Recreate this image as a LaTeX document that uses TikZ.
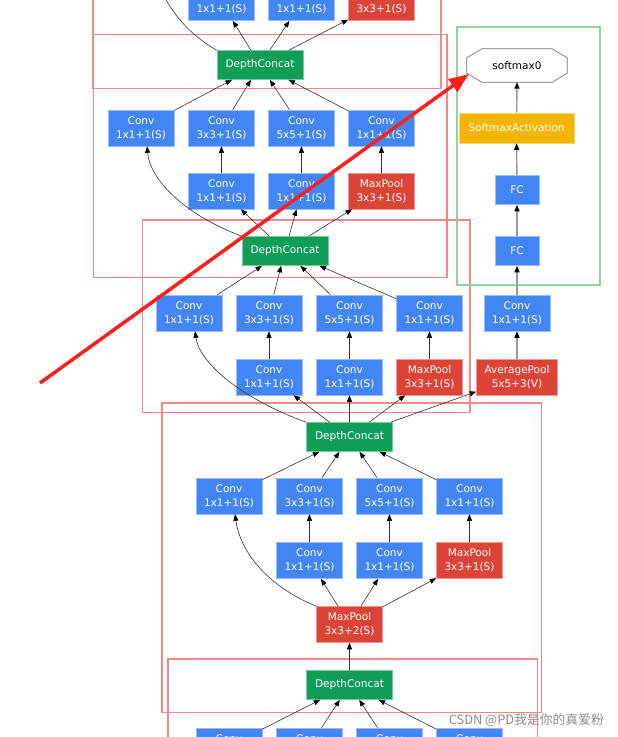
\documentclass[tikz,border=0pt]{standalone}
\usepackage{fontspec}
\newfontfamily\dejavu{DejaVu Sans}
\newfontfamily\cjk{Noto Sans CJK SC}
\usetikzlibrary{arrows.meta}
\definecolor{convblue}{RGB}{66,133,244}
\definecolor{poolred}{RGB}{219,68,55}
\definecolor{catgreen}{RGB}{15,157,88}
\definecolor{actyellow}{RGB}{244,180,0}
\definecolor{clusterred}{RGB}{245,135,135}
\definecolor{clustergreen}{RGB}{145,212,155}
\definecolor{markupred}{RGB}{255,30,30}
\tikzset{
  opbox/.style={text=white, font=\dejavu\fontsize{10.5}{14}\selectfont, align=center,
    inner sep=0pt, minimum width=66pt, minimum height=36pt, line width=0.6pt},
  conv/.style={opbox, fill=convblue, draw=convblue!55!white},
  pool/.style={opbox, fill=poolred, draw=poolred!55!white},
  concat/.style={opbox, fill=catgreen, draw=catgreen!55!white, minimum width=86pt, minimum height=29pt},
  fc/.style={opbox, fill=convblue, draw=convblue!55!white, minimum width=44pt, minimum height=29pt},
  act/.style={opbox, fill=actyellow, draw=actyellow!55!white, minimum width=115pt, minimum height=30pt},
  outnode/.style={font=\dejavu\fontsize{10.5}{14}\selectfont, inner sep=0pt, minimum width=100pt, minimum height=33pt},
  flow/.style={draw=black!80, line width=0.6pt, -{Triangle[length=6.5pt,width=5pt,color=black]}},
  branch/.style={flow, draw=black!40, line width=1.4pt},
  cluster/.style={draw=clusterred, line width=1.2pt},
  greencluster/.style={draw=clustergreen, line width=1.2pt},
  markup/.style={draw=markupred, line width=3.5pt, -{Triangle[length=20pt,width=15pt]}},
  watermark/.style={font=\cjk\fontsize{12.8}{15}\selectfont, text=black!45, inner sep=0pt}
}
\begin{document}
\begin{tikzpicture}[x=1pt, y=-1pt]
    \fill[white] (0,0) rectangle (618,737);
    \useasboundingbox (0,0) rectangle (618,737);
    % clusters
    \draw[cluster] (93,-20) rectangle (441,88.7);
    \draw[cluster] (93.7,34.7) rectangle (447,277.7);
    \draw[cluster] (142.7,220) rectangle (470,412.7);
    \draw[cluster] (162,403) rectangle (541.7,712.7);
    \draw[cluster] (168,659) rectangle (537.7,760);
    \draw[greencluster] (457,27) rectangle (600,285);
    % top module, cut off
    \node[conv] (t2) at (221.5,2.5) {Conv\\1x1+1(S)};
    \node[conv] (t3) at (301.5,2.5) {Conv\\1x1+1(S)};
    \node[pool] (t4) at (381.5,2.5) {MaxPool\\3x3+1(S)};
    \coordinate (up1) at (150,-40);
    \node[concat] (dc1) at (260,65) {DepthConcat};
    % module a
    \node[conv] (a1) at (141,128) {Conv\\1x1+1(S)};
    \node[conv] (a2) at (221.5,128) {Conv\\3x3+1(S)};
    \node[conv] (a3) at (301.5,128) {Conv\\5x5+1(S)};
    \node[conv] (a4) at (381.5,128) {Conv\\1x1+1(S)};
    \node[conv] (a2r) at (221.5,191) {Conv\\1x1+1(S)};
    \node[conv] (a3r) at (301.5,191) {Conv\\1x1+1(S)};
    \node[pool] (a4r) at (381.5,191) {MaxPool\\3x3+1(S)};
    \node[concat] (dc2) at (285,251) {DepthConcat};
    % module b
    \node[conv] (b1) at (189,313) {Conv\\1x1+1(S)};
    \node[conv] (b2) at (269,313) {Conv\\3x3+1(S)};
    \node[conv] (b3) at (349.5,313) {Conv\\5x5+1(S)};
    \node[conv] (b4) at (429.5,313) {Conv\\1x1+1(S)};
    \node[conv] (b2r) at (269,377) {Conv\\1x1+1(S)};
    \node[conv] (b3r) at (349.5,377) {Conv\\1x1+1(S)};
    \node[pool] (b4r) at (429.5,377) {MaxPool\\3x3+1(S)};
    \node[concat] (dc3) at (349.5,437) {DepthConcat};
    % softmax branch
    \node[pool, minimum width=81pt] (avg) at (517,377) {AveragePool\\5x5+3(V)};
    \node[conv] (bx) at (517,313) {Conv\\1x1+1(S)};
    \node[fc] (fc2) at (517,251) {FC};
    \node[fc] (fc1) at (517,190) {FC};
    \node[act] (act) at (516.5,128) {SoftmaxActivation};
    \node[outnode] (sm) at (517,65.5) {softmax0};
    \draw[black!55, fill=white, line width=0.7pt] ([xshift=15pt]sm.north west) -- ([xshift=-15pt]sm.north east)
        -- ([yshift=-9pt]sm.north east) -- ([yshift=9pt]sm.south east) -- ([xshift=-15pt]sm.south east)
        -- ([xshift=15pt]sm.south west) -- ([yshift=9pt]sm.south west) -- ([yshift=-9pt]sm.north west) -- cycle;
    \node[outnode] at (sm) {softmax0};
    % module c
    \node[conv] (c1) at (229,496) {Conv\\1x1+1(S)};
    \node[conv] (c2) at (309.5,496) {Conv\\3x3+1(S)};
    \node[conv] (c3) at (389.5,496) {Conv\\5x5+1(S)};
    \node[conv] (c4) at (469.5,496) {Conv\\1x1+1(S)};
    \node[conv] (c2r) at (309.5,560.5) {Conv\\1x1+1(S)};
    \node[conv] (c3r) at (389.5,560.5) {Conv\\1x1+1(S)};
    \node[pool] (c4r) at (469.5,560.5) {MaxPool\\3x3+1(S)};
    \node[pool] (mp) at (349.5,624.5) {MaxPool\\3x3+2(S)};
    \node[concat] (dc4) at (349.5,685) {DepthConcat};
    % bottom module, cut off
    \node[conv] (d1) at (229,746) {Conv\\1x1+1(S)};
    \node[conv] (d2) at (309.5,746) {Conv\\3x3+1(S)};
    \node[conv] (d3) at (389.5,746) {Conv\\5x5+1(S)};
    \node[conv] (d4) at (469.5,746) {Conv\\1x1+1(S)};
    % edges
    \foreach \t in {t2,t3,t4} \draw[flow] (dc1) -- (\t);
    \draw[flow] (dc1.north west) .. controls (190,35) and (165,10) .. (up1);
    \foreach \s in {a1,a2,a3,a4} \draw[flow] (\s) -- (dc1);
    \draw[flow] (a2r) -- (a2);
    \draw[flow] (a3r) -- (a3);
    \draw[flow] (a4r) -- (a4);
    \foreach \t in {a2r,a3r,a4r} \draw[flow] (dc2) -- (\t);
    \draw[flow] (dc2.north west) .. controls (185,215) and (150,180) .. ([xshift=6pt]a1.south);
    \foreach \s in {b1,b2,b3,b4} \draw[flow] (\s) -- (dc2);
    \draw[flow] (b2r) -- (b2);
    \draw[flow] (b3r) -- (b3);
    \draw[flow] (b4r) -- (b4);
    \foreach \t in {b2r,b3r,b4r,avg} \draw[flow] (dc3) -- (\t);
    \draw[flow] (dc3.north west) .. controls (245,400) and (200,365) .. ([xshift=6pt]b1.south);
    \draw[branch] (avg) -- (bx);
    \draw[branch] (bx) -- (fc2);
    \draw[branch] (fc2) -- (fc1);
    \draw[branch] (fc1) -- (act);
    \draw[branch] (act) -- (sm.south);
    \foreach \s in {c1,c2,c3,c4} \draw[flow] (\s) -- (dc3);
    \draw[flow] (c2r) -- (c2);
    \draw[flow] (c3r) -- (c3);
    \draw[flow] (c4r) -- (c4);
    \foreach \t in {c2r,c3r,c4r} \draw[flow] (mp) -- (\t);
    \draw[flow] (mp.north west) .. controls (265,585) and (240,550) .. ([xshift=6pt]c1.south);
    \draw[flow] (dc4) -- (mp);
    \foreach \s in {d1,d2,d3,d4} \draw[flow] (\s) -- (dc4);
    % red markup arrow
    \coordinate (redtail) at (40,383);
    \coordinate (redtip) at (469,74);
    \draw[markup] (redtail) -- (redtip);
    \node[watermark, anchor=east] (credit) at (604,720) {CSDN @PD我是你的真爱粉};
\end{tikzpicture}
\end{document}
